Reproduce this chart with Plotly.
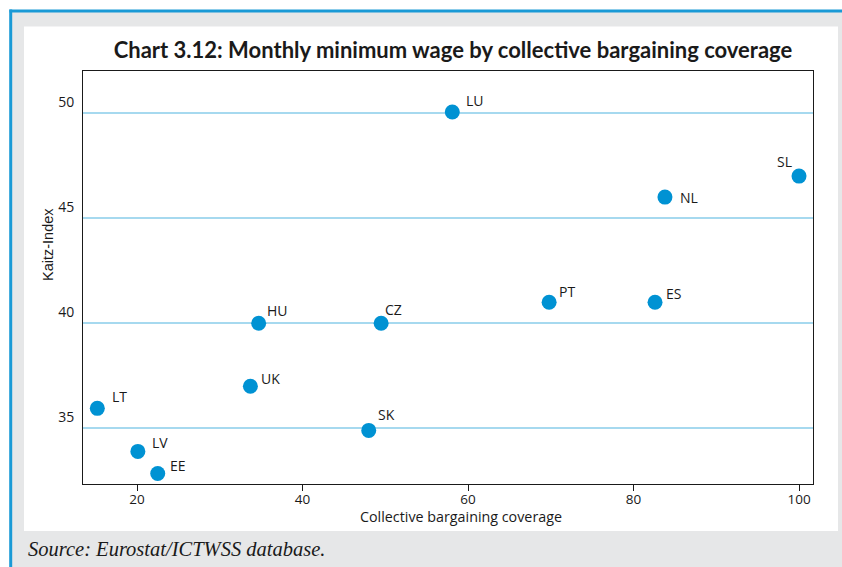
import plotly.graph_objects as go

# data
countries = ["LU", "SL", "NL", "ES", "PT", "CZ", "HU", "UK", "LT", "LV", "EE", "SK"]
coverage = [58.1, 100.0, 83.8, 82.6, 69.8, 49.5, 34.7, 33.7, 15.2, 20.1, 22.5, 48.0]
kaitz = [50.05, 47.0, 46.0, 41.0, 41.0, 40.0, 40.0, 37.0, 35.95, 33.9, 32.85, 34.9]

x_ticks = [20, 40, 60, 80, 100]
y_ticks = [35, 40, 45, 50]

# label placement (anchor, x shift px, y shift px) per country
label_style = {
    "LU": ("left", 12, 11), "SL": ("right", -5, 15), "NL": ("left", 13, 0),
    "ES": ("left", 9, 9), "PT": ("left", 8, 11), "CZ": ("left", 2, 14),
    "HU": ("left", 6, 13), "UK": ("left", 9, 8), "LT": ("left", 13, 12),
    "LV": ("left", 12, 9), "EE": ("left", 10, 8), "SK": ("left", 7, 16),
}

W, H = 842, 567
L, R, T, B = 83, 29, 71, 83

BLUE = "#0092d3"
GRID = "#a6d9ef"
FRAME_GREY = "#e6e7e8"
INK = "#1a1a1a"
SANS = "'Open Sans', sans-serif"


def px_x(p):
    # pixel -> paper x
    return (p - L) / (W - L - R)


def px_y(p):
    # pixel -> paper y
    return (H - B - p) / (H - T - B)


fig = go.Figure()

fig.add_trace(go.Scatter(
    x=coverage,
    y=kaitz,
    mode="markers",
    marker=dict(size=15, color=BLUE, line=dict(width=0)),
    cliponaxis=False,
    showlegend=False,
    hoverinfo="skip",
))

# country labels
annotations = []
for name, cx, ky in zip(countries, coverage, kaitz):
    anchor, dx, dy = label_style[name]
    annotations.append(dict(
        x=cx, y=ky, text=name, showarrow=False,
        xanchor=anchor, yanchor="middle", xshift=dx, yshift=dy,
        font=dict(family=SANS, size=14, color=INK),
    ))

annotations += [
    dict(text="Kaitz-Index", xref="paper", yref="paper", x=px_x(48), y=px_y(245),
         textangle=-90, showarrow=False, xanchor="center", yanchor="middle",
         font=dict(family="'Liberation Sans', Arial, sans-serif", size=14.5, color=INK)),
    dict(text="Collective bargaining coverage", xref="paper", yref="paper",
         x=px_x(461), y=px_y(516), showarrow=False, xanchor="center", yanchor="middle",
         font=dict(family=SANS, size=14.3, color=INK)),
    dict(text="Source: Eurostat/ICTWSS database.", xref="paper", yref="paper",
         x=px_x(26), y=px_y(549), showarrow=False, xanchor="left", yanchor="middle",
         font=dict(family="'Liberation Serif', serif", size=20.5, color=INK, style="italic")),
]

# page decoration: grey frame, blue rules, white panel
shapes = [
    dict(type="rect", xref="paper", yref="paper", x0=px_x(10), x1=px_x(W + 5),
         y0=px_y(H + 5), y1=px_y(11), fillcolor=FRAME_GREY, line=dict(width=0), layer="below"),
    dict(type="rect", xref="paper", yref="paper", x0=px_x(24), x1=px_x(838),
         y0=px_y(531), y1=px_y(26.5), fillcolor="white", line=dict(width=0), layer="below"),
    dict(type="line", xref="paper", yref="paper", x0=px_x(9.5), x1=px_x(W + 5),
         y0=px_y(11), y1=px_y(11), line=dict(color="#1a9ad6", width=3), layer="below"),
    dict(type="line", xref="paper", yref="paper", x0=px_x(10.7), x1=px_x(10.7),
         y0=px_y(9.5), y1=px_y(H + 5), line=dict(color="#1a9ad6", width=3), layer="below"),
]

fig.update_layout(
    width=W,
    height=H,
    margin=dict(l=L, r=R, t=T, b=B),
    paper_bgcolor="white",
    plot_bgcolor="white",
    title=dict(
        text="<b>Chart 3.12: Monthly minimum wage by collective bargaining coverage</b>",
        x=453 / W, xanchor="center", y=1 - 50 / H, yanchor="middle",
        font=dict(family="Lato, sans-serif", size=22, color=INK),
    ),
    shapes=shapes,
    annotations=annotations,
)

fig.update_xaxes(
    range=[13.47, 101.69],
    tickvals=x_ticks,
    ticks="outside", ticklen=6, tickcolor=INK, ticklabelstandoff=-3,
    showgrid=False, zeroline=False,
    showline=True, linecolor=INK, linewidth=1, mirror=True,
    tickfont=dict(family=SANS, size=13.5, color=INK),
)

fig.update_yaxes(
    range=[32.35, 52.0],
    tickvals=y_ticks,
    ticks="", ticklabelshift=-11, ticklabelstandoff=5,
    showgrid=True, gridcolor=GRID, gridwidth=1.5, zeroline=False,
    showline=True, linecolor=INK, linewidth=1, mirror=True,
    tickfont=dict(family=SANS, size=14, color=INK),
)

fig.write_html(
    "out.html",
    config={"displayModeBar": False},
    post_script="document.body.style.margin='0';",
)
